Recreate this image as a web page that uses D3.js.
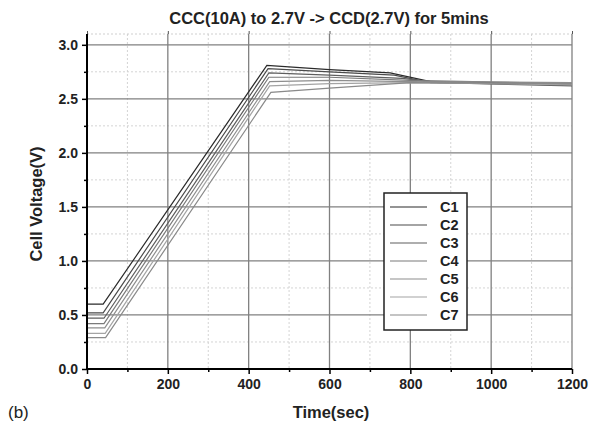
<!DOCTYPE html>
<html>
<head>
<meta charset="utf-8">
<script src="https://cdn.jsdelivr.net/npm/d3@7"></script>
<style>
  body { margin: 0; background: #fff; }
  text { font-family: "Liberation Sans", Arial, sans-serif; }
</style>
</head>
<body>
<div id="chart"></div>
<script>
/* series names and greys */
var names = ["C1", "C2", "C3", "C4", "C5", "C6", "C7"];
var colors = ["#2a2a2a", "#4a4a4a", "#5e5e5e", "#7a7a7a", "#8e8e8e", "#a4a4a4", "#8a8a8a"];

/* time (s), voltage (V) points */
var c1 = [[0,0.60],[40,0.60],[445,2.81],[600,2.77],[750,2.74],[850,2.66],[1200,2.64]];
var c2 = [[0,0.52],[40,0.52],[448,2.78],[600,2.75],[760,2.72],[850,2.65],[1200,2.63]];
var c3 = [[0,0.47],[42,0.47],[450,2.74],[600,2.72],[780,2.69],[870,2.65],[1200,2.62]];
var c4 = [[0,0.42],[42,0.42],[450,2.70],[600,2.70],[800,2.67],[1200,2.64]];
var c5 = [[0,0.38],[44,0.38],[452,2.66],[600,2.67],[800,2.66],[1200,2.65]];
var c6 = [[0,0.33],[45,0.33],[452,2.62],[600,2.64],[800,2.65],[1200,2.63]];
var c7 = [[0,0.29],[46,0.29],[455,2.56],[600,2.60],[800,2.65],[1200,2.64]];
var series = [c1, c2, c3, c4, c5, c6, c7];

var xTicks = [0, 200, 400, 600, 800, 1000, 1200];
var yTicks = [0.0, 0.5, 1.0, 1.5, 2.0, 2.5, 3.0];
var xMinor = [100, 300, 500, 700, 900, 1100];
var yMinor = [0.25, 0.75, 1.25, 1.75, 2.25, 2.75];

var margin = { top: 34, right: 20, bottom: 58, left: 87 };
var width = 592 - margin.left - margin.right;   // 485
var height = 427 - margin.top - margin.bottom;  // 335

var svg = d3.select("#chart").append("svg")
  .attr("width", 592)
  .attr("height", 427);

var g = svg.append("g")
  .attr("transform", "translate(" + margin.left + "," + margin.top + ")");

var x = d3.scaleLinear().domain([0, 1200]).range([0, 485]);
var y = d3.scaleLinear().domain([0, 3.1]).range([335, 0]);

/* minor grid */
g.selectAll(".vminor").data(xMinor).enter().append("line")
  .attr("x1", d => x(d)).attr("x2", d => x(d))
  .attr("y1", 0).attr("y2", y(0))
  .attr("stroke", "#d4d4d4").attr("stroke-dasharray", "2,2");
g.selectAll(".hminor").data(yMinor).enter().append("line")
  .attr("x1", 0).attr("x2", x(1200))
  .attr("y1", d => y(d)).attr("y2", d => y(d))
  .attr("stroke", "#d4d4d4").attr("stroke-dasharray", "2,2");
// top border (light)
g.append("line")
  .attr("x1", 0).attr("x2", x(1200)).attr("y1", 0).attr("y2", 0)
  .attr("stroke", "#cfcfcf").attr("stroke-dasharray", "2,2");

/* major grid */
g.selectAll(".vmajor").data(xTicks.slice(1)).enter().append("line")
  .attr("x1", d => x(d)).attr("x2", d => x(d))
  .attr("y1", 0).attr("y2", y(0))
  .attr("stroke", "#808080").attr("stroke-width", 1.3);
g.selectAll(".hmajor").data(yTicks.slice(1)).enter().append("line")
  .attr("x1", 0).attr("x2", x(1200))
  .attr("y1", d => y(d)).attr("y2", d => y(d))
  .attr("stroke", "#808080").attr("stroke-width", 1.3);

/* lines */
var line = d3.line().x(d => x(d[0])).y(d => y(d[1]));
g.selectAll(".series").data(series).enter().append("path")
  .attr("d", line)
  .attr("fill", "none")
  .attr("stroke", (d, i) => colors[i])
  .attr("stroke-width", 1.2);

/* axes */
var xAxisCall = d3.axisBottom(x).tickValues(xTicks).tickFormat(d3.format("d")).tickSize(5).tickPadding(5);
var xAx = g.append("g")
  .attr("class", "x axis")
  .attr("transform", "translate(0," + y(0) + ")")
  .call(xAxisCall);
xAx.select(".domain").attr("stroke-width", 2).attr("d", "M0,0H" + x(1200));
xAx.selectAll("line").attr("stroke-width", 1.5);
xAx.selectAll("text").attr("font-size", 14).attr("font-weight", "bold").attr("fill", "#222");

var xMinorAxis = g.append("g")
  .attr("transform", "translate(0," + y(0) + ")")
  .call(d3.axisBottom(x).tickValues(xMinor).tickSize(3).tickFormat(""));
xMinorAxis.select(".domain").remove();
xMinorAxis.selectAll("line").attr("stroke-width", 1.5);

var yAxisCall = d3.axisLeft(y).tickValues(yTicks).tickFormat(d3.format(".1f")).tickSize(5).tickPadding(4);
var yAx = g.append("g")
  .attr("class", "y axis")
  .call(yAxisCall);
yAx.select(".domain").attr("stroke-width", 2).attr("d", "M0," + y(0) + "V0");
yAx.selectAll("line").attr("stroke-width", 1.5);
yAx.selectAll("text").attr("font-size", 14).attr("font-weight", "bold").attr("fill", "#222");

var yMinorAxis = g.append("g")
  .call(d3.axisLeft(y).tickValues(yMinor).tickSize(3).tickFormat(""));
yMinorAxis.select(".domain").remove();
yMinorAxis.selectAll("line").attr("stroke-width", 1.5);

/* top ticks */
var topAx = g.append("g")
  .call(d3.axisTop(x).tickValues(xTicks).tickSize(3).tickFormat(""));
topAx.select(".domain").remove();
topAx.selectAll("line").attr("stroke", "#555");

/* titles */
svg.append("text")
  .attr("x", 329).attr("y", 24)
  .attr("text-anchor", "middle")
  .attr("font-size", 16.5).attr("font-weight", "bold")
  .attr("fill", "#222")
  .text("CCC(10A) to 2.7V -> CCD(2.7V) for 5mins");

svg.append("text")
  .attr("x", 331).attr("y", 418)
  .attr("text-anchor", "middle")
  .attr("font-size", 16.5).attr("font-weight", "bold")
  .attr("fill", "#222")
  .text("Time(sec)");

svg.append("text")
  .attr("transform", "translate(42,204) rotate(-90)")
  .attr("text-anchor", "middle")
  .attr("font-size", 16.5).attr("font-weight", "bold")
  .attr("fill", "#222")
  .text("Cell Voltage(V)");

svg.append("text")
  .attr("x", 8).attr("y", 418)
  .attr("font-size", 17)
  .attr("fill", "#222")
  .text("(b)");

/* legend */
var lg = svg.append("g").attr("transform", "translate(384,193)");
lg.append("rect")
  .attr("width", 83).attr("height", 137)
  .attr("fill", "#fff").attr("stroke", "#222").attr("stroke-width", 1.5);
var items = lg.selectAll(".item").data(names).enter().append("g")
  .attr("transform", (d, i) => "translate(0," + (14 + i * 18) + ")");
items.append("line")
  .attr("x1", 6).attr("x2", 43).attr("y1", 0).attr("y2", 0)
  .attr("stroke", (d, i) => colors[i]).attr("stroke-width", 1.2);
items.append("text")
  .attr("x", 56).attr("y", 5)
  .attr("font-size", 14.5).attr("font-weight", "bold")
  .attr("fill", "#222")
  .text(d => d);
</script>
</body>
</html>
